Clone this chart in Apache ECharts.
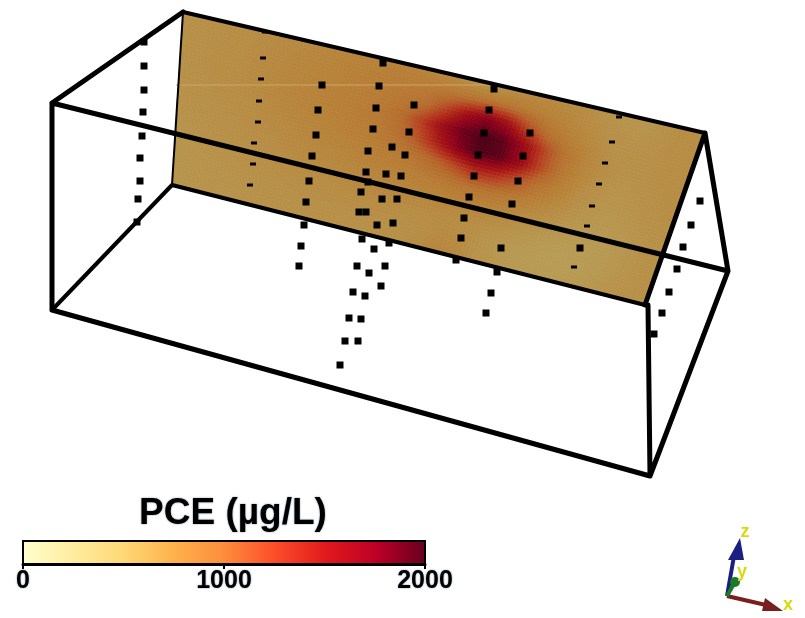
<!DOCTYPE html>
<html><head><meta charset="utf-8">
<style>html,body{margin:0;padding:0;background:#fff}#c{width:805px;height:618px}</style>
<script src="https://cdn.jsdelivr.net/npm/echarts@6/dist/echarts.min.js"></script>
</head><body><div id="c"></div>
<script>
// projected scene coordinates (view plane units)
const planeCorners = [[183,12],[705,133],[172,185],[645,305]]; // TL, TR, BL, BR
// PCE concentration on the slice, rows top to bottom, columns left to right
const planeValues = [
[610,620,630,640,650,660,680,700,720,730,740,720,690,650,580,560,620,660,660,650,620,580,560,600,640,650],
[610,620,630,640,660,680,700,720,740,760,780,790,800,820,840,850,830,780,730,690,640,600,590,610,640,650],
[610,620,640,650,670,690,710,730,750,770,800,840,920,1200,1550,1750,1550,1150,870,760,680,620,600,620,640,650],
[610,620,640,650,670,700,720,740,760,790,830,950,1250,1600,1880,2000,1920,1600,1180,870,720,640,610,620,640,650],
[600,610,630,640,660,690,710,730,750,780,820,910,1130,1450,1780,1980,1920,1620,1180,850,700,620,590,610,630,640],
[600,610,620,630,650,670,690,710,730,750,780,810,880,1000,1180,1380,1320,1120,900,770,660,600,570,600,620,640],
[590,600,610,620,640,650,670,690,700,720,740,750,770,800,840,870,860,810,740,680,610,570,550,580,610,630],
[580,590,600,610,620,630,650,660,670,680,690,700,710,720,720,720,710,680,640,600,560,530,530,560,600,620],
[570,580,590,600,610,620,630,640,640,650,650,650,650,650,650,640,620,590,560,530,510,510,520,560,600,620],
[570,580,590,590,600,610,610,620,620,620,620,620,620,630,670,650,590,550,520,510,500,510,530,570,600,620],
[570,580,590,590,600,600,610,610,610,620,610,610,620,650,720,680,600,550,530,520,520,530,560,590,610,620]
];
const wellPoints = [
[144,42],[144,66],[144,90],[143,112],[142,136],[140,158],[140,181],[138,199],[137,222],
[322,85],[318,110],[316,135],[312,156],[309,181],[306,202],[304,225],[301,246],[299,266],
[383,63],[379,86],[376,108],[373,129],[368,151],[366,172],[368,182],[361,192],[359,212],[362,239],[357,266],[353,292],[349,318],[345,341],[340,365],
[414,105],[409,132],[392,147],[405,155],[386,174],[401,176],[382,199],[397,199],[366,212],[377,225],[393,223],[389,243],[374,249],[385,266],[369,273],[381,286],[365,296],[361,319],[358,341],
[494,89],[489,110],[484,133],[478,155],[474,176],[469,197],[464,218],[461,238],[456,260],
[530,133],[523,156],[518,181],[512,204],[501,248],[497,272],[491,293],[486,313],
[700,201],[691,225],[683,247],[677,269],[669,292],[662,313],[654,334],
[580,248]
];
const hiddenPoints = [
[265,32],[263,58],[261,79],[259,101],[258,122],[254,143],[253,164],[250,185],
[619,117],[612,142],[605,163],[599,184],[592,206],[587,226],[574,267]
];
const frontEdges = [
[[52,103],[728,271]],[[52,103],[52,310]],[[52,310],[650,476]],[[650,476],[728,271]],[[648,305],[650,476]],
[[705,133],[728,271]],[[705,133],[645,305]],[[52,103],[183,12]]
];
const backEdges = [
[[183,12],[705,133]],[[52,310],[172,185]],[[172,185],[645,305]]
];
const hiddenEdges = [[[183,12],[172,185]]];
const seamLine = [[176,85],[490,85]];
const colorStops = ['#ffffcc','#ffeda0','#fed976','#feb24c','#fd8d3c','#fc4e2a','#e31a1c','#bd0026','#67001f'];
const colorRange = [0,2000];
const colorTicks = [0,1000,2000];
const legendTitle = 'PCE (µg/L)';
const triad = {
  z:{shaft:[[727,596],[734,556]],head:[[740,538],[728,560],[744,560]],label:[745,532],color:'#1a1f80',name:'z'},
  x:{shaft:[[727,596],[766,605]],head:[[783,611],[765,598],[762,611]],label:[788,605],color:'#7a1f1f',name:'x'},
  y:{shaft:[[727,596],[735,582]],head:null,label:[742,572],color:'#1c7a24',name:'y'}
};

const SHADE = 0.72;
const rgbStops = colorStops.map(h=>[1,3,5].map(i=>parseInt(h.substr(i,2),16)));
function planeColor(v){
  const t=Math.max(0,Math.min(1,v/colorRange[1]))*(rgbStops.length-1);
  const i=Math.min(rgbStops.length-2,Math.floor(t)),f=t-i;
  const c=rgbStops[i].map((a,k)=>Math.round((a+(rgbStops[i+1][k]-a)*f)*SHADE));
  return 'rgb('+c.join(',')+')';
}
const nRows=planeValues.length-1,nCols=planeValues[0].length-1;
const cellData=[];
for(let r=0;r<nRows;r++)for(let c=0;c<nCols;c++){
  cellData.push([c,r,planeValues[r][c],planeValues[r][c+1],planeValues[r+1][c],planeValues[r+1][c+1]]);
}
function planePoint(u,v){
  const [a,b,d,e]=planeCorners;
  return [(1-v)*((1-u)*a[0]+u*b[0])+v*((1-u)*d[0]+u*e[0]),(1-v)*((1-u)*a[1]+u*b[1])+v*((1-u)*d[1]+u*e[1])];
}
const SUB=5;
function renderCell(params,api){
  const c=api.value(0),r=api.value(1),v00=api.value(2),v10=api.value(3),v01=api.value(4),v11=api.value(5);
  const children=[];
  for(let i=0;i<SUB;i++)for(let j=0;j<SUB;j++){
    const s=(i+.5)/SUB,t=(j+.5)/SUB;
    const val=(1-t)*((1-s)*v00+s*v10)+t*((1-s)*v01+s*v11);
    const col=planeColor(val);
    const pts=[[i,j],[i+1,j],[i+1,j+1],[i,j+1]].map(q=>api.coord(planePoint((c+q[0]/SUB)/nCols,(r+q[1]/SUB)/nRows)));
    children.push({type:'polygon',shape:{points:pts},style:{fill:col,stroke:col,lineWidth:0.7}});
  }
  return {type:'group',children};
}
function edgeLine(list){const out=[];list.forEach(e=>{out.push(e[0],e[1],[null,null]);});return out;}
function renderBar(params,api){
  const a=api.coord([colorRange[0],0]),b=api.coord([colorRange[1],1]);
  return {type:'rect',shape:{x:a[0],y:b[1],width:b[0]-a[0],height:a[1]-b[1]},
    style:{stroke:'#000',lineWidth:2,fill:new echarts.graphic.LinearGradient(0,0,1,0,colorStops.map((c,i)=>({offset:i/(colorStops.length-1),color:c})))}};
}
function renderTriad(params,api){
  const t=Object.values(triad)[params.dataIndex];
  const ch=[];
  ch.push({type:'line',shape:{x1:api.coord(t.shaft[0])[0],y1:api.coord(t.shaft[0])[1],x2:api.coord(t.shaft[1])[0],y2:api.coord(t.shaft[1])[1]},style:{stroke:t.color,lineWidth:4}});
  if(t.head)ch.push({type:'polygon',shape:{points:t.head.map(p=>api.coord(p))},style:{fill:t.color}});
  else{const p=api.coord(t.shaft[1]);ch.push({type:'circle',shape:{cx:p[0],cy:p[1],r:5},style:{fill:t.color}});}
  const l=api.coord(t.label);
  ch.push({type:'text',x:l[0],y:l[1],style:{text:t.name,fill:'#d9d90f',font:'bold 18px "Liberation Sans"',align:'center',verticalAlign:'middle'}});
  return {type:'group',children:ch};
}
const halo={fontWeight:'bold',textShadowColor:'rgba(90,120,150,0.8)',textShadowBlur:2};
const chart=echarts.init(document.getElementById('c'),null,{renderer:'canvas',width:805,height:618});
chart.setOption({
  animation:false,backgroundColor:'#fff',
  title:{text:legendTitle,left:228,top:490,textAlign:'center',textStyle:Object.assign({fontFamily:'Liberation Sans',fontSize:37,color:'#000'},halo)},
  grid:[{left:0,top:0,width:805,height:618},{left:23,top:541,width:402,height:23}],
  xAxis:[
    {gridIndex:0,type:'value',min:0,max:805,show:false},
    {gridIndex:1,type:'value',min:colorRange[0],max:colorRange[1],interval:1000,splitLine:{show:false},
     axisLine:{lineStyle:{color:'#000',width:3}},axisTick:{length:5,lineStyle:{color:'#000',width:2}},
     axisLabel:Object.assign({fontFamily:'Liberation Sans',fontSize:25,color:'#000',margin:5,showMinLabel:true,showMaxLabel:true,
       alignMinLabel:'center',alignMaxLabel:'center',customValues:colorTicks,formatter:v=>String(v)},halo)}
  ],
  yAxis:[
    {gridIndex:0,type:'value',min:0,max:618,inverse:true,show:false},
    {gridIndex:1,type:'value',min:0,max:1,show:false}
  ],
  series:[
    {type:'custom',name:'slice',xAxisIndex:0,yAxisIndex:0,clip:false,silent:true,z:1,data:cellData,renderItem:renderCell,encode:{x:0,y:1}},
    {type:'line',name:'seam',xAxisIndex:0,yAxisIndex:0,z:2,data:seamLine,showSymbol:false,silent:true,lineStyle:{color:'#cda56c',width:1}},
    {type:'scatter',name:'hidden wells',xAxisIndex:0,yAxisIndex:0,z:3,data:hiddenPoints,symbol:'rect',symbolSize:[6,3],itemStyle:{color:'#000',opacity:1},silent:true},
    {type:'scatter',name:'wells',xAxisIndex:0,yAxisIndex:0,z:3,data:wellPoints,symbol:'rect',symbolSize:7,itemStyle:{color:'#000',opacity:1},silent:true},
    {type:'line',name:'plane edge',xAxisIndex:0,yAxisIndex:0,z:4,data:edgeLine(hiddenEdges),showSymbol:false,connectNulls:false,silent:true,lineStyle:{color:'#000',width:2}},
    {type:'line',name:'back edges',xAxisIndex:0,yAxisIndex:0,z:4,data:edgeLine(backEdges),showSymbol:false,connectNulls:false,silent:true,lineStyle:{color:'#000',width:4,cap:'round'}},
    {type:'line',name:'front edges',xAxisIndex:0,yAxisIndex:0,z:4,data:edgeLine(frontEdges),showSymbol:false,connectNulls:false,silent:true,lineStyle:{color:'#000',width:5,cap:'round'}},
    {type:'custom',name:'bar',xAxisIndex:1,yAxisIndex:1,clip:false,silent:true,z:5,data:[[0,0]],renderItem:renderBar},
    {type:'custom',name:'triad',xAxisIndex:0,yAxisIndex:0,clip:false,silent:true,z:6,data:Object.keys(triad).map(()=>[0,0]),renderItem:renderTriad}
  ]
});
</script></body></html>
